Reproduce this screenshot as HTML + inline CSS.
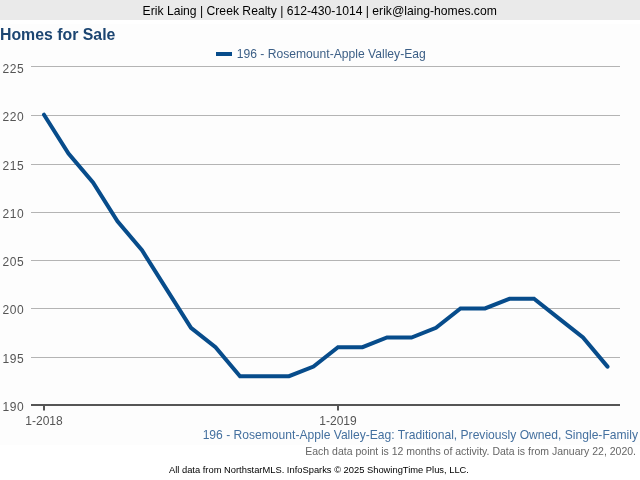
<!DOCTYPE html>
<html>
<head>
<meta charset="utf-8">
<style>
html,body{margin:0;padding:0;background:#fff;}
body{width:640px;height:480px;position:relative;overflow:hidden;font-family:"Liberation Sans",Arial,sans-serif;}
#hdr{position:absolute;left:0;top:0;width:640px;height:20px;background:#eaeaea;color:#000;font-size:12.17px;line-height:20px;text-align:center;white-space:nowrap;}
#hdr span{position:relative;top:0.5px;left:-0.3px;}
#plotbg{position:absolute;left:0;top:24px;width:640px;height:421px;background:#fdfdfd;}
#title{position:absolute;left:0px;top:24.5px;font-size:15.85px;font-weight:bold;color:#1c4571;white-space:nowrap;line-height:20px;}
.t{position:absolute;white-space:nowrap;}
#chart{position:absolute;left:0;top:0;}
#desc{right:2px;top:427px;font-size:12.1px;color:#44709f;line-height:16px;}
#note{right:4px;top:444px;font-size:10.5px;color:#666;line-height:14px;}
#foot{left:169px;top:463px;font-size:9.35px;color:#000;line-height:14px;}
</style>
</head>
<body>
<div id="wrap" style="position:absolute;left:0;top:0;width:640px;height:480px;will-change:transform;">
<div id="hdr"><span>Erik Laing | Creek Realty | 612-430-1014 | erik@laing-homes.com</span></div>
<div id="plotbg"></div>
<div id="title">Homes for Sale</div>
<svg id="chart" width="640" height="480" viewBox="0 0 640 480">
  <g stroke="#b4b4b4" stroke-width="1" fill="none">
    <line x1="31" y1="66.5" x2="620" y2="66.5"/>
    <line x1="31" y1="115.5" x2="620" y2="115.5"/>
    <line x1="31" y1="164.5" x2="620" y2="164.5"/>
    <line x1="31" y1="212.5" x2="620" y2="212.5"/>
    <line x1="31" y1="260.5" x2="620" y2="260.5"/>
    <line x1="31" y1="308.5" x2="620" y2="308.5"/>
    <line x1="31" y1="357.5" x2="620" y2="357.5"/>
  </g>
  <line x1="31" y1="405" x2="620" y2="405" stroke="#555" stroke-width="2"/>
  <line x1="44" y1="406" x2="44" y2="410.5" stroke="#555" stroke-width="2"/>
  <line x1="338" y1="406" x2="338" y2="410.5" stroke="#555" stroke-width="2"/>
  <g font-family="Liberation Sans, Arial, sans-serif" font-size="12" fill="#555" text-anchor="end" letter-spacing="0.55">
    <text x="24.2" y="73">225</text>
    <text x="24.2" y="121">220</text>
    <text x="24.2" y="170">215</text>
    <text x="24.2" y="218">210</text>
    <text x="24.2" y="266">205</text>
    <text x="24.2" y="314">200</text>
    <text x="24.2" y="363">195</text>
    <text x="24.2" y="411">190</text>
  </g>
  <g font-family="Liberation Sans, Arial, sans-serif" font-size="12" fill="#555" text-anchor="middle">
    <text x="44" y="425">1-2018</text>
    <text x="338" y="425">1-2019</text>
  </g>
  <polyline fill="none" stroke="#074c8b" stroke-width="4" stroke-linejoin="miter" stroke-linecap="round"
    points="44.0,114.7 68.5,153.5 93.0,182.5 117.5,221.3 142.0,250.3 166.5,289.1 191.0,327.8 215.5,347.2 240.0,376.2 264.5,376.2 289.0,376.2 313.5,366.6 338.0,347.2 362.5,347.2 387.0,337.5 411.5,337.5 436.0,327.8 460.5,308.4 485.0,308.4 509.5,298.8 534.0,298.8 558.5,318.1 583.0,337.5 607.5,366.6"/>
  <rect x="216" y="52" width="16" height="4" fill="#074c8b"/>
  <text x="236.8" y="58" font-family="Liberation Sans, Arial, sans-serif" font-size="12.12" fill="#3c5f86">196 - Rosemount-Apple Valley-Eag</text>
</svg>
<div class="t" id="desc">196 - Rosemount-Apple Valley-Eag: Traditional, Previously Owned, Single-Family</div>
<div class="t" id="note">Each data point is 12 months of activity. Data is from January 22, 2020.</div>
<div class="t" id="foot">All data from NorthstarMLS. InfoSparks © 2025 ShowingTime Plus, LLC.</div>
</div>
</body>
</html>
